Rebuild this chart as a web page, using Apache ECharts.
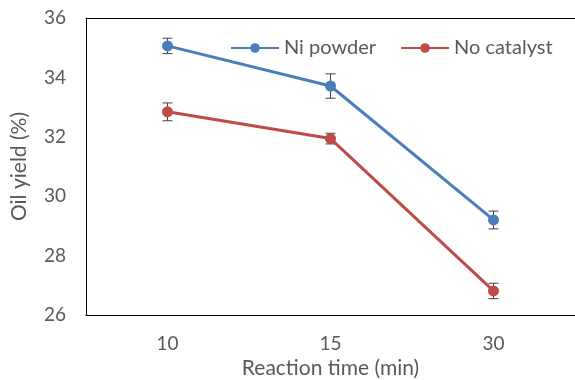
<!DOCTYPE html>
<html>
<head>
<meta charset="utf-8">
<script src="https://cdn.jsdelivr.net/npm/echarts@6/dist/echarts.min.js"></script>
<style>html,body{margin:0;padding:0;background:#fff}#c{width:575px;height:380px}</style>
</head>
<body>
<div id="c"></div>
<script>
var categories = ['10', '15', '30'];
var niPowder = [35.06, 33.71, 29.2];
var niPowderErr = [0.26, 0.41, 0.3];
var noCatalyst = [32.84, 31.94, 26.81];
var noCatalystErr = [0.3, 0.18, 0.26];
var seriesNames = ['Ni powder', 'No catalyst'];
var yTicks = { min: 26, max: 36, interval: 2 };

var FONT = 'Lato, "Open Sans", sans-serif';
var TXT = '#595959';

function errData(vals, errs) {
  return vals.map(function (v, i) { return [i, v - errs[i], v + errs[i]]; });
}
function errSeries(vals, errs) {
  return {
    type: 'custom',
    z: 1,
    silent: true,
    data: errData(vals, errs),
    renderItem: function (params, api) {
      var lo = api.coord([api.value(0), api.value(1)]);
      var hi = api.coord([api.value(0), api.value(2)]);
      var w = 5;
      var st = { stroke: '#404040', lineWidth: 1 };
      return {
        type: 'group',
        children: [
          { type: 'line', shape: { x1: lo[0], y1: lo[1], x2: hi[0], y2: hi[1] }, style: st },
          { type: 'line', shape: { x1: lo[0] - w, y1: lo[1], x2: lo[0] + w, y2: lo[1] }, style: st },
          { type: 'line', shape: { x1: hi[0] - w, y1: hi[1], x2: hi[0] + w, y2: hi[1] }, style: st }
        ]
      };
    }
  };
}

var chart = echarts.init(document.getElementById('c'));
chart.setOption({
  animation: false,
  grid: { left: 86, right: 0, top: 18, bottom: 65, containLabel: false, outerBoundsMode: 'none' },
  legend: {
    left: 225, top: 33,
    itemWidth: 48, itemHeight: 12, itemGap: 24,
    textStyle: { fontFamily: FONT, fontSize: 20, color: TXT },
    data: seriesNames
  },
  xAxis: [{
    type: 'category',
    data: categories,
    axisLine: { lineStyle: { color: '#000', width: 1 } },
    axisTick: { show: false },
    axisLabel: { fontFamily: FONT, fontSize: 19, color: TXT, margin: 19 },
    name: 'Reaction time (min)',
    nameLocation: 'middle',
    nameGap: 43,
    nameTextStyle: { fontFamily: FONT, fontSize: 21, color: TXT },
    splitLine: { show: false }
  }, {
    type: 'category',
    position: 'top',
    data: categories,
    axisLine: { lineStyle: { color: '#000', width: 1 } },
    axisTick: { show: false },
    axisLabel: { show: false }
  }],
  yAxis: {
    type: 'value',
    min: yTicks.min, max: yTicks.max, interval: yTicks.interval,
    axisLine: { show: true, lineStyle: { color: '#000', width: 1 } },
    axisTick: { show: false },
    splitLine: { show: false },
    axisLabel: { fontFamily: FONT, fontSize: 19, color: TXT, margin: 20 },
    name: 'Oil yield (%)',
    nameLocation: 'middle',
    nameGap: 56,
    nameTextStyle: { fontFamily: FONT, fontSize: 21, color: TXT }
  },
  series: [
    errSeries(niPowder, niPowderErr),
    errSeries(noCatalyst, noCatalystErr),
    {
      name: seriesNames[0], type: 'line', z: 3, data: niPowder,
      symbol: 'circle', symbolSize: 11,
      lineStyle: { color: '#4A7EBB', width: 3 },
      itemStyle: { color: '#4A7EBB' }
    },
    {
      name: seriesNames[1], type: 'line', z: 3, data: noCatalyst,
      symbol: 'circle', symbolSize: 11,
      lineStyle: { color: '#BE4B48', width: 3 },
      itemStyle: { color: '#BE4B48' }
    }
  ]
});
</script>
</body>
</html>
